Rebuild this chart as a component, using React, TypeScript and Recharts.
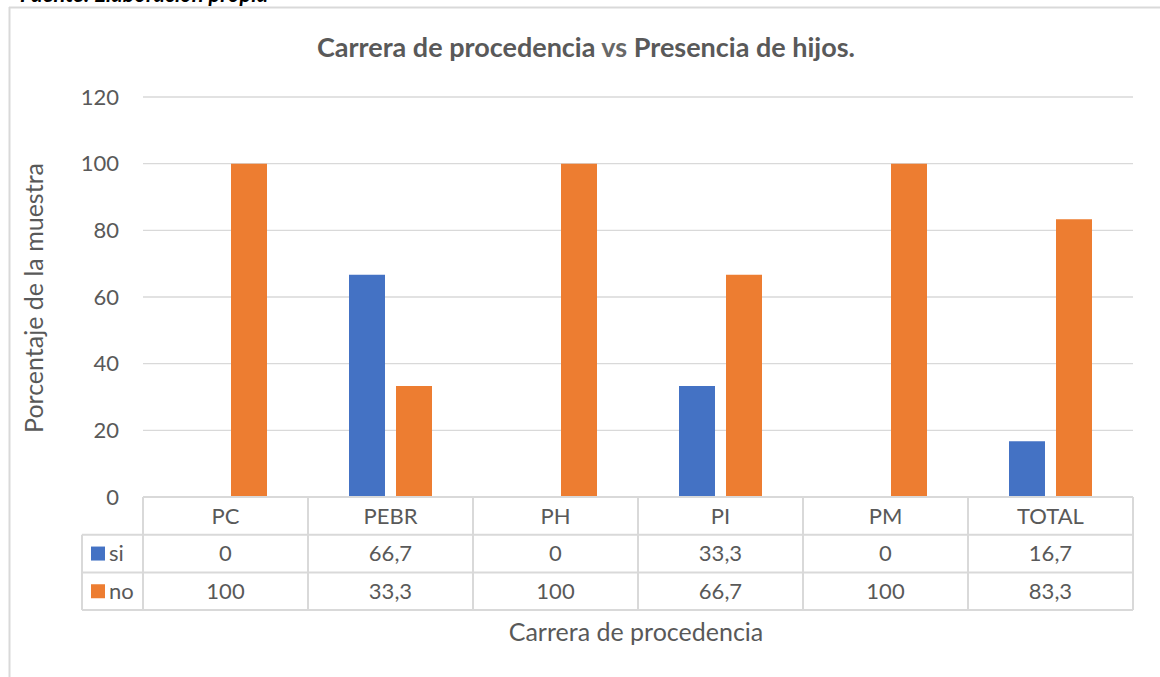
import React from 'react';
import { BarChart, Bar, XAxis, YAxis, CartesianGrid } from 'recharts';

const categories = ['PC', 'PEBR', 'PH', 'PI', 'PM', 'TOTAL'];
const siValues = [0, 66.7, 0, 33.3, 0, 16.7];
const noValues = [100, 33.3, 100, 66.7, 100, 83.3];
const seriesNames = ['si', 'no'];
const seriesColors = ['#4472C4', '#ED7D31'];
const yTicks = [0, 20, 40, 60, 80, 100, 120];

const data = categories.map((c, i) => ({ name: c, si: siValues[i], no: noValues[i] }));

const W = 1160;
const H = 677;
const PLOT_LEFT = 143;
const PLOT_RIGHT = 1133;
const PLOT_TOP = 97;
const PLOT_BOTTOM = 497;
const BAND = (PLOT_RIGHT - PLOT_LEFT) / categories.length;
const ROW = 37.7;
const X_AXIS_H = 120;
const FONT = 'Lato, sans-serif';
const FS = 22;
const TITLE_FS = 25;
const TEXT = '#595959';
const LINE = '#d9d9d9';

const fmt = (v: number) => String(v).replace('.', ',');

const TableTick = (props: any) => {
  const { x, y, payload, index } = props;
  const left = x - BAND / 2;
  const right = x + BAND / 2;
  const vals = [siValues[index], noValues[index]];
  return (
    <g>
      <line x1={left} x2={left} y1={y} y2={y + ROW * 3} stroke={LINE} strokeWidth={2} />
      <line x1={right} x2={right} y1={y} y2={y + ROW * 3} stroke={LINE} strokeWidth={2} />
      {[0, 1, 2, 3].map((r) => (
        <line key={r} x1={left} x2={right} y1={y + ROW * r} y2={y + ROW * r} stroke={LINE} strokeWidth={2} />
      ))}
      <text x={x} y={y + ROW * 0.5} dy="0.35em" textAnchor="middle" fontSize={FS} fill={TEXT} fontFamily={FONT}>
        {payload.value}
      </text>
      {vals.map((v, r) => (
        <text key={r} x={x} y={y + ROW * (r + 1.5)} dy="0.35em" textAnchor="middle" fontSize={FS} fill={TEXT} fontFamily={FONT}>
          {fmt(v)}
        </text>
      ))}
    </g>
  );
};

export default function App() {
  return (
    <div style={{ position: 'fixed', left: 0, top: 0, width: W, height: H, background: '#fff' }}>
      <BarChart
        width={W}
        height={H}
        data={data}
        margin={{ top: PLOT_TOP, right: W - PLOT_RIGHT, bottom: H - PLOT_BOTTOM - X_AXIS_H, left: PLOT_LEFT - 60 }}
        barSize={36}
        barGap={11}
      >
        <CartesianGrid horizontal vertical={false} stroke={LINE} strokeWidth={1.3} />
        <XAxis
          dataKey="name"
          axisLine={false}
          tickLine={false}
          tickSize={0}
          tickMargin={0}
          height={X_AXIS_H}
          tick={<TableTick />}
          interval={0}
        />
        <YAxis
          width={60}
          domain={[0, 120]}
          ticks={yTicks}
          axisLine={false}
          tickLine={false}
          tickSize={0}
          tickMargin={24}
          tick={{ fontSize: FS, fill: TEXT, fontFamily: FONT }}
        />
        <Bar dataKey="si" fill={seriesColors[0]} isAnimationActive={false} />
        <Bar dataKey="no" fill={seriesColors[1]} isAnimationActive={false} />
      </BarChart>
      <svg width={W} height={H} style={{ position: 'absolute', left: 0, top: 0, pointerEvents: 'none' }}>
        {/* caption of the page, mostly cut off above the chart like in the source */}
        <text x={20} y={2} fontSize={22} fontWeight="bold" fontStyle="italic" fill="#000" fontFamily={FONT}>
          Fuente: Elaboración propia
        </text>
        <line x1={9.5} x2={9.5} y1={7} y2={H} stroke={LINE} strokeWidth={2} />
        <line x1={9} x2={W} y1={7.5} y2={7.5} stroke={LINE} strokeWidth={2} />
        <text x={586} y={48} dy="0.35em" textAnchor="middle" fontSize={27} fontWeight="bold" fill={TEXT} fontFamily={FONT}>
          Carrera de procedencia <tspan fill="#686868">vs</tspan> Presencia de hijos.
        </text>
        <text
          x={34}
          y={298}
          dy="0.35em"
          textAnchor="middle"
          transform="rotate(-90 34 298)"
          fontSize={TITLE_FS}
          fill={TEXT}
          fontFamily={FONT}
        >
          Porcentaje de la muestra
        </text>
        <text x={636} y={632} dy="0.35em" textAnchor="middle" fontSize={TITLE_FS} fill={TEXT} fontFamily={FONT}>
          Carrera de procedencia
        </text>
        <line x1={82} x2={82} y1={PLOT_BOTTOM + ROW} y2={PLOT_BOTTOM + ROW * 3} stroke={LINE} strokeWidth={2} />
        {[1, 2, 3].map((r) => (
          <line key={r} x1={82} x2={PLOT_LEFT} y1={PLOT_BOTTOM + ROW * r} y2={PLOT_BOTTOM + ROW * r} stroke={LINE} strokeWidth={2} />
        ))}
        {seriesNames.map((s, i) => (
          <g key={s}>
            <rect x={91} y={PLOT_BOTTOM + ROW * (i + 1.5) - 7} width={14} height={14} fill={seriesColors[i]} />
            <text x={109} y={PLOT_BOTTOM + ROW * (i + 1.5)} dy="0.35em" fontSize={FS} fill={TEXT} fontFamily={FONT}>
              {s}
            </text>
          </g>
        ))}
      </svg>
    </div>
  );
}
